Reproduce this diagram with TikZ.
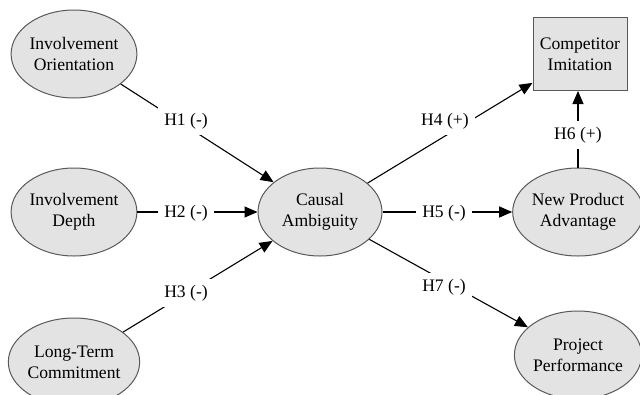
\documentclass[tikz,border=0pt]{standalone}
\usepackage{fontspec}
\setmainfont{Liberation Serif}
\usetikzlibrary{shapes.geometric,arrows.meta}
\begin{document}
\begin{tikzpicture}[x=1pt,y=-1pt,
  construct/.style={ellipse,draw=black!65,line width=1pt,fill=black!11,minimum width=124pt,minimum height=88pt,inner sep=0pt,align=center,font=\fontsize{17.6}{21}\selectfont},
  boxnode/.style={rectangle,draw=black!65,line width=1pt,fill=black!11,minimum width=94pt,minimum height=73pt,inner sep=0pt,align=center,font=\fontsize{17.6}{21}\selectfont},
  hyp/.style={fill=white,inner sep=6pt,font=\fontsize{17.6}{21}\selectfont},
  arr/.style={line width=1.1pt,-{Triangle[length=13pt,width=11pt]}}]
\useasboundingbox (0,0) rectangle (640,394);
\node[construct] (io) at (74,54) {Involvement\\Orientation};
\node[construct] (id) at (74,212) {Involvement\\Depth};
\node[construct] (lt) at (74,362) {Long-Term\\Commitment};
\node[construct] (ca) at (320,212) {Causal\\Ambiguity};
\node[boxnode] (ci) at (580,54) {Competitor\\Imitation};
\node[construct] (np) at (578,212) {New Product\\Advantage};
\node[construct] (pp) at (578,355) {Project\\Performance};
\draw[arr] (io) -- (ca);
\draw[arr] (id) -- (ca);
\draw[arr] (lt) -- (ca);
\draw[arr] (ca) -- (ci);
\draw[arr] (ca) -- (np);
\draw[arr] (np.north) -- (ci.south -| np.north);
\draw[arr] (ca) -- (pp);
\node[hyp] (h1) at (186,121) {H1 (-)};
\node[hyp] (h2) at (186,213) {H2 (-)};
\node[hyp] (h3) at (186,293) {H3 (-)};
\node[hyp] (h4) at (445,121) {H4 (+)};
\node[hyp] (h5) at (444,213) {H5 (-)};
\node[hyp] (h6) at (578,135) {H6 (+)};
\node[hyp] (h7) at (444,287) {H7 (-)};
\end{tikzpicture}
\end{document}
